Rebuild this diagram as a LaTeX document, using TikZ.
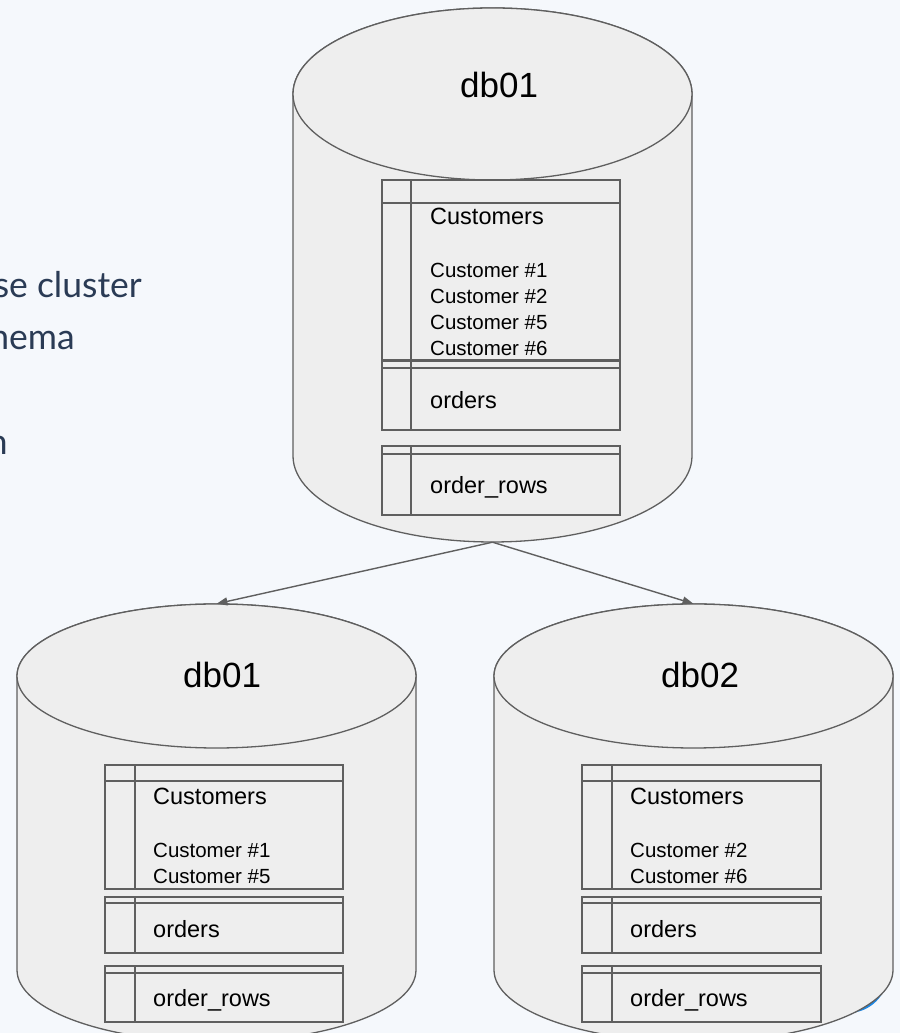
\documentclass[tikz,border=0pt]{standalone}
\usepackage{fontspec}
\setmainfont{Liberation Sans}
\newfontfamily\leftfont{Lato}
\usetikzlibrary{arrows.meta}
\definecolor{bg}{HTML}{F5F8FC}
\definecolor{cylfill}{HTML}{EEEEEE}
\definecolor{edge}{HTML}{5F5F5F}
\definecolor{navy}{HTML}{2A3B55}
\definecolor{chatblue}{HTML}{1E88E5}
\newcommand\dbcylinder[4]{% cx, top-ellipse centre Y, bottom-ellipse centre Y, ry
  \path[cylbody] (#1-199.5,#2) -- (#1-199.5,#3)
    arc[start angle=180,end angle=360,x radius=199.5,y radius=#4]
    -- (#1+199.5,#2)
    arc[start angle=0,end angle=180,x radius=199.5,y radius=#4] -- cycle;
  \draw[cylbody] (#1,#2) ellipse[x radius=199.5,y radius=#4];
}
\newcommand\dbtable[6]{% left, divider, right, top, header, bottom (pixel rows)
  \draw[tbl] (#1,1033-#4) rectangle (#3,1033-#6);
  \draw[tbl] (#1,1033-#5) -- (#3,1033-#5);
  \draw[tbl] (#2,1033-#4) -- (#2,1033-#6);
}
\begin{document}
\begin{tikzpicture}[x=1pt,y=1pt,
  cylbody/.style={fill=cylfill,draw=edge,line width=1.3pt},
  tbl/.style={draw=edge,line width=1.8pt},
  area/.style={inner sep=0pt,minimum width=399pt},
  tname/.style={anchor=base west,inner sep=0pt,font=\fontsize{23.5}{28}\selectfont},
  titem/.style={anchor=base west,inner sep=0pt,font=\fontsize{20.5}{24}\selectfont},
  dblabel/.style={anchor=base west,inner sep=0pt,font=\fontsize{35}{42}\selectfont},
  sidetext/.style={anchor=base east,inner sep=0pt,text=navy,font=\leftfont\fontsize{35.5}{42}\selectfont},
  link/.style={draw=edge,line width=1.4pt,-{Triangle[length=11pt,width=8pt]}}]
\useasboundingbox (0,0) rectangle (900,1033);
\clip (0,0) rectangle (900,1033);
\fill[bg] (0,0) rectangle (900,1033);

% partially hidden text on the left
\node[sidetext] (s1) at (142,1033-298) {se cluster};
\node[sidetext] (s2) at (75,1033-350) {hema};
\node[sidetext] (s3) at (8,1033-455) {n};

% blue shape peeking behind lower right cylinder
\fill[chatblue] (848,60) circle[radius=40];

% top cylinder
\dbcylinder{492.5}{939}{577}{86}
\node[area,minimum height=534pt] (top) at (492.5,758) {};
\node[dblabel] (topl) at (460,1033-98) {db01};
\dbtable{382}{411}{620}{180}{203}{360}
\dbtable{382}{411}{620}{361}{368}{430}
\dbtable{382}{411}{620}{446}{454}{515}
\node[tname] (tc) at (430,1033-225) {Customers};
\node[titem] (tc1) at (430,1033-278) {Customer \#1};
\node[titem] (tc2) at (430,1033-304) {Customer \#2};
\node[titem] (tc5) at (430,1033-330) {Customer \#5};
\node[titem] (tc6) at (430,1033-356) {Customer \#6};
\node[tname] (to) at (430,1033-409) {orders};
\node[tname] (tr) at (430,1033-494) {order\_rows};

% lower left cylinder
\dbcylinder{216.5}{357}{63}{72}
\node[area,minimum height=438pt] (left) at (216.5,210) {};
\node[dblabel] (leftl) at (183,1033-688) {db01};
\dbtable{105}{135}{343}{765}{781}{889}
\dbtable{105}{135}{343}{897}{903}{953}
\dbtable{105}{135}{343}{966}{973}{1022}
\node[tname] (lc) at (153,1033-805) {Customers};
\node[titem] (lc1) at (153,1033-858) {Customer \#1};
\node[titem] (lc5) at (153,1033-884) {Customer \#5};
\node[tname] (lo) at (153,1033-938) {orders};
\node[tname] (lr) at (153,1033-1007) {order\_rows};

% lower right cylinder
\dbcylinder{693.5}{357}{63}{72}
\node[area,minimum height=438pt] (right) at (693.5,210) {};
\node[dblabel] (rightl) at (661,1033-688) {db02};
\dbtable{582}{612}{821}{765}{781}{889}
\dbtable{582}{612}{821}{897}{903}{953}
\dbtable{582}{612}{821}{966}{973}{1022}
\node[tname] (rc) at (630,1033-805) {Customers};
\node[titem] (rc2) at (630,1033-858) {Customer \#2};
\node[titem] (rc6) at (630,1033-884) {Customer \#6};
\node[tname] (ro) at (630,1033-938) {orders};
\node[tname] (rr) at (630,1033-1007) {order\_rows};

% connectors
\draw[link] (top.south) -- (left.north);
\draw[link] (top.south) -- (right.north);
\end{tikzpicture}
\end{document}
